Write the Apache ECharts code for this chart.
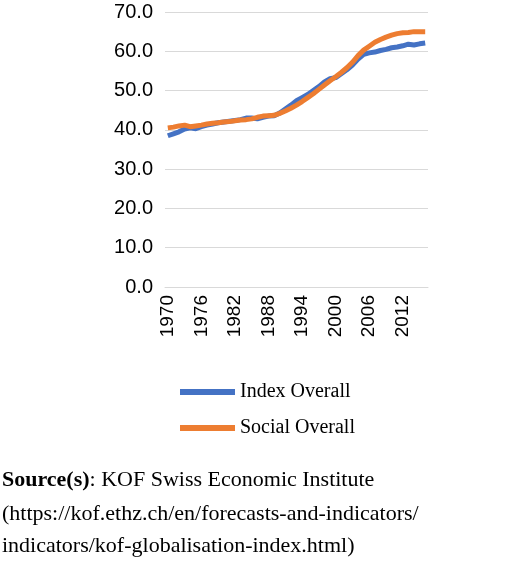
<!DOCTYPE html>
<html><head><meta charset="utf-8">
<script src="https://cdn.jsdelivr.net/npm/echarts@6/dist/echarts.min.js"></script>
<style>html,body{margin:0;background:#fff}#c{width:520px;height:567px}</style>
</head><body><div id="c"></div>
<script>
var years = [];
for (var y = 1970; y <= 2016; y++) years.push(String(y));
var indexOverall = [38.5,39,39.5,40.2,40.5,40.3,40.8,41.2,41.5,41.8,42,42.2,42.4,42.6,43,43,42.8,43.2,43.5,43.6,44.3,45.3,46.3,47.4,48.2,49,50,51,52.2,53,53.3,54.3,55.3,56.5,58,59.2,59.6,59.8,60.2,60.5,60.9,61.1,61.4,61.8,61.6,61.9,62.1];
var socialOverall = [40.5,40.7,41,41.2,40.8,41,41.2,41.5,41.7,41.8,42,42.1,42.3,42.5,42.6,42.8,43.2,43.5,43.6,43.7,44.2,44.8,45.5,46.3,47.2,48.2,49.2,50.3,51.4,52.5,53.5,54.6,55.8,57.2,58.9,60.3,61.3,62.3,63,63.6,64.1,64.5,64.7,64.8,65,65,65];
var serif = 'Liberation Serif';
var chart = echarts.init(document.getElementById('c'));
chart.setOption({
  animation: false,
  grid: { left: 165, right: 92, top: 12, bottom: 280 },
  legend: {
    orient: 'vertical', left: 175, top: 377, itemGap: 16, itemWidth: 55, itemHeight: 6, icon: 'rect',
    textStyle: { fontFamily: serif, fontSize: 20, color: '#000' },
    data: ['Index Overall', 'Social Overall']
  },
  xAxis: {
    type: 'category', data: years, boundaryGap: true,
    axisTick: { show: false }, axisLine: { lineStyle: { color: '#d9d9d9' } },
    axisLabel: { rotate: 90, interval: 5, color: '#000', fontFamily: 'Liberation Sans', fontSize: 19, margin: 8 }
  },
  yAxis: {
    type: 'value', min: 0, max: 70, interval: 10,
    axisLabel: { formatter: function (v) { return v.toFixed(1); }, color: '#000', fontFamily: 'Liberation Sans', fontSize: 20, margin: 12 },
    splitLine: { lineStyle: { color: '#d9d9d9' } }
  },
  series: [
    { name: 'Index Overall', type: 'line', data: indexOverall, symbol: 'none', color: '#4472c4', lineStyle: { width: 5 } },
    { name: 'Social Overall', type: 'line', data: socialOverall, symbol: 'none', color: '#ed7d31', lineStyle: { width: 5 } }
  ],
  graphic: [
    { type: 'text', left: 2, top: 469, style: { rich: { b: { fontWeight: 'bold', fontFamily: serif, fontSize: 22 }, n: { fontFamily: serif, fontSize: 22 } }, text: '{b|Source(s)}{n|: KOF Swiss Economic Institute}', fill: '#000' } },
    { type: 'text', left: 2, top: 503, style: { text: '(https://kof.ethz.ch/en/forecasts-and-indicators/', fontFamily: serif, fontSize: 22, fill: '#000' } },
    { type: 'text', left: 2, top: 535, style: { text: 'indicators/kof-globalisation-index.html)', fontFamily: serif, fontSize: 22, fill: '#000' } }
  ]
});
</script></body></html>
